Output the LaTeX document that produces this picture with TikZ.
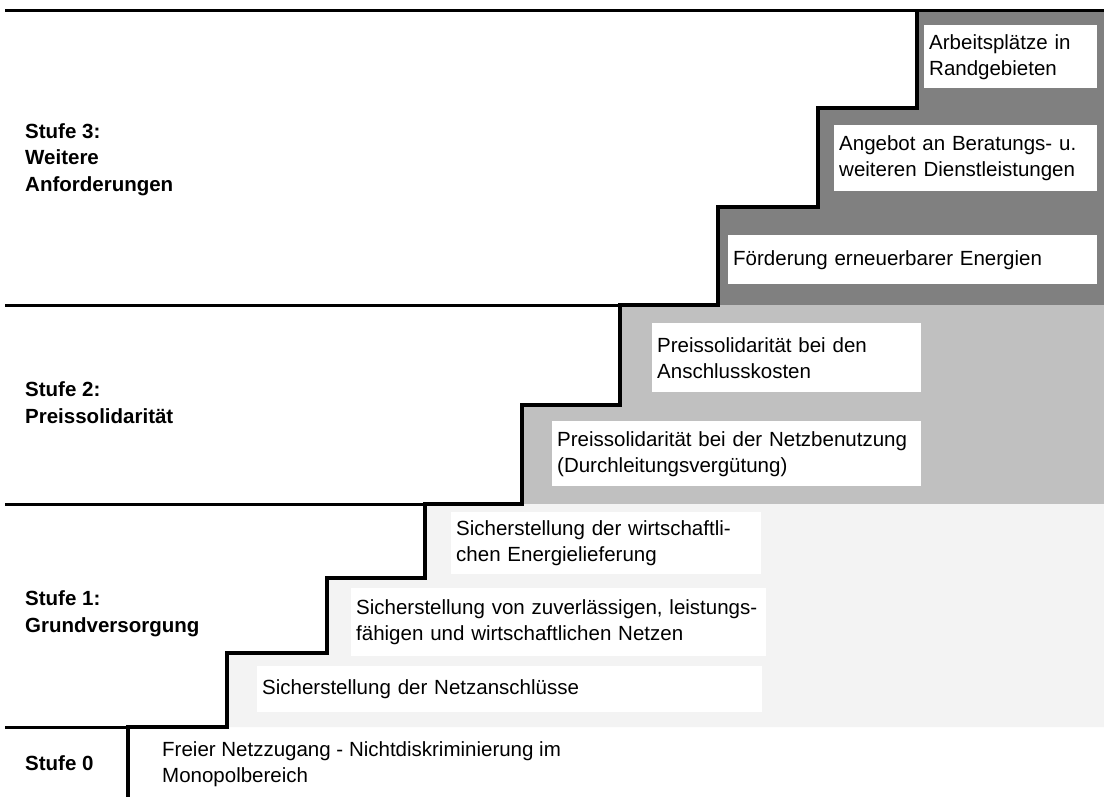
\documentclass[tikz,border=0pt]{standalone}
\usepackage{fontspec}
\setmainfont{Liberation Sans}
\definecolor{stufedrei}{HTML}{808080}
\definecolor{stufezwei}{HTML}{C0C0C0}
\definecolor{stufeeins}{HTML}{F3F3F3}

\begin{document}
\begin{tikzpicture}[x=1pt, y=-1pt,
  font=\fontsize{20.5}{26}\selectfont,
  feld/.style={fill=white, inner xsep=5pt, inner ysep=0pt, align=left, anchor=north west},
  stufe/.style={anchor=base west, align=left, inner sep=0pt, font=\fontsize{20.5}{26.5}\selectfont\bfseries},
  trenn/.style={line width=3pt},
  treppe/.style={line width=4.5pt, line join=miter}]
\useasboundingbox (0,0) rectangle (1104,796);
\fill[stufedrei] (917,10) -- (1104,10) -- (1104,305) -- (718,305) -- (718,207) -- (818,207) -- (818,108) -- (917,108) -- cycle;
\fill[stufezwei] (620,305) -- (1104,305) -- (1104,504) -- (522,504) -- (522,405) -- (620,405) -- cycle;
\fill[stufeeins] (425,504) -- (1104,504) -- (1104,727) -- (227,727) -- (227,653) -- (327,653) -- (327,578) -- (425,578) -- cycle;
\draw[trenn] (5,10) -- (1104,10);
\draw[trenn] (5,305) -- (620,305);
\draw[trenn] (5,504) -- (425,504);
\draw[trenn] (5,727) -- (128,727);
\draw[treppe] (917,10) |- (818,108) |- (718,207) |- (620,305) |- (522,405) |- (425,504)
  |- (327,578) |- (227,653) |- (128,727) -- (128,800);
\node[feld, text width=163pt, minimum height=63pt] (arbeit) at (924,25) {Arbeitsplätze in\\Randgebieten};
\node[feld, text width=253pt, minimum height=66pt] (angebot) at (834,125) {Angebot an Beratungs- u.\\weiteren Dienstleistungen};
\node[feld, text width=359pt, minimum height=49pt] (foerderung) at (728,235) {Förderung erneuerbarer Energien};
\node[feld, text width=259pt, minimum height=69pt] (anschluss) at (652,323) {Preissolidarität bei den\\Anschlusskosten};
\node[feld, text width=359pt, minimum height=65pt] (netzbenutzung) at (552,421) {Preissolidarität bei der Netzbenutzung\\(Durchleitungsvergütung)};
\node[feld, text width=300pt, minimum height=62pt] (lieferung) at (451,512) {Sicherstellung der wirtschaftli-\\chen Energielieferung};
\node[feld, text width=405pt, minimum height=68pt] (netze) at (351,588) {Sicherstellung von zuverlässigen, leistungs-\\fähigen und wirtschaftlichen Netzen};
\node[feld, text width=495pt, minimum height=46pt] (netzanschluss) at (257,666) {Sicherstellung der Netzanschlüsse};
\node[stufe] (stufe3) at (25,191) {Stufe 3:\\Weitere\\Anforderungen};
\node[stufe] (stufe2) at (25,423) {Stufe 2:\\Preissolidarität};
\node[stufe] (stufe1) at (25,632) {Stufe 1:\\Grundversorgung};
\node[stufe] (stufe0) at (25,770) {Stufe 0};
\node[anchor=base west, align=left, inner sep=0pt] (zugang) at (162,782) {Freier Netzzugang - Nichtdiskriminierung im\\Monopolbereich};
\end{tikzpicture}
\end{document}
